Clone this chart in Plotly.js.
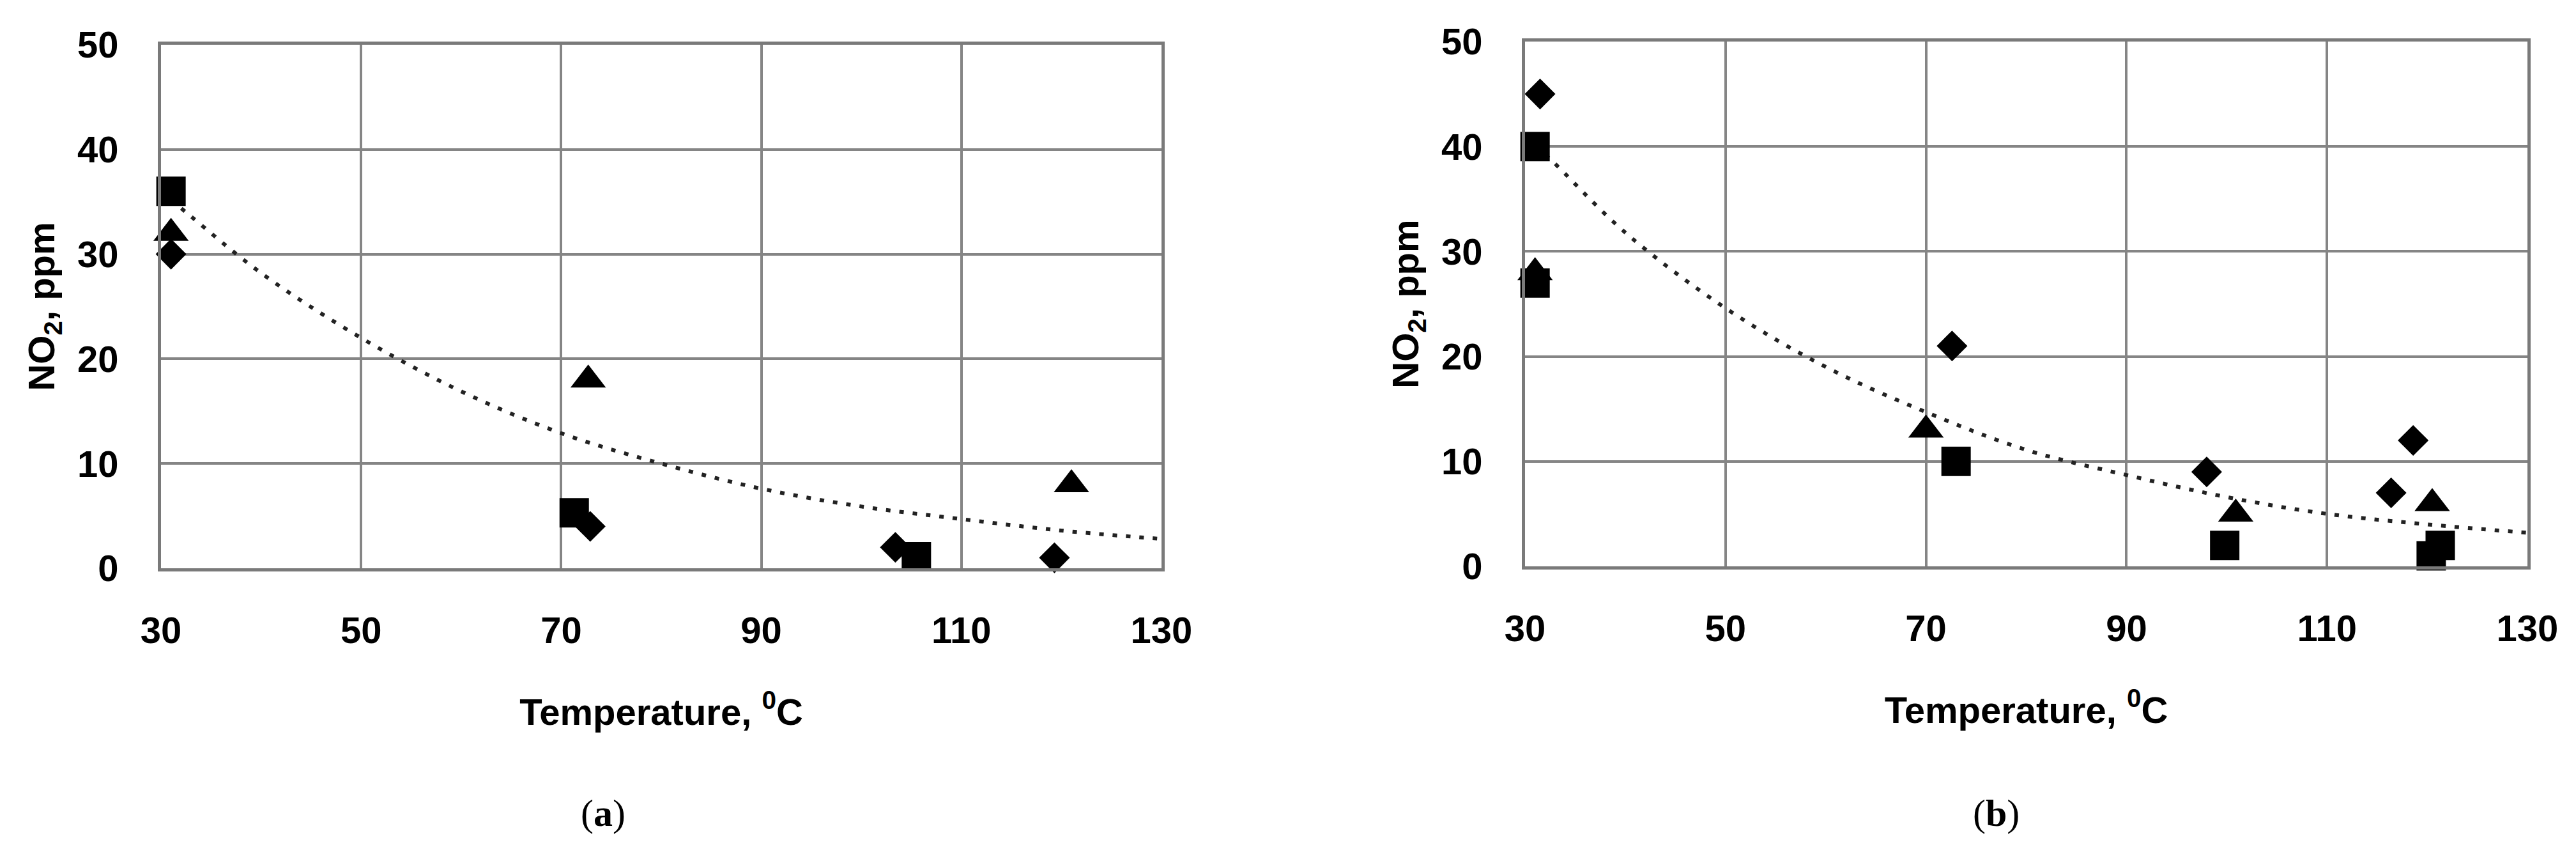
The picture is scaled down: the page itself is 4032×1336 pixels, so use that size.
<!DOCTYPE html>
<html>
<head>
<meta charset="utf-8">
<script src="https://cdn.plot.ly/plotly-3.0.1.min.js"></script>
<style>html,body{margin:0;padding:0;background:#fff;}#chart{width:4032px;height:1336px;}</style>
</head>
<body>
<div id="chart"></div>
<script>
// ---------- data ----------
const xTickVals = [30, 50, 70, 90, 110, 130];
const yTickVals = [0, 10, 20, 30, 40, 50];

// panel (a)
const aSquareT   = [31, 71.3, 105.5];
const aSquareNO2 = [36, 5.3, 1.1];
const aTriT      = [31, 72.7, 121];
const aTriNO2    = [32, 18, 8];
const aDiaT      = [31, 72.9, 103.4, 119.3];
const aDiaNO2    = [30, 4, 2, 1];
const aTrendT    = [31, 33, 40, 50, 60, 70, 80, 90, 100, 110, 120, 130];
const aTrendNO2  = [35.2, 33.6, 28.2, 22.0, 16.9, 12.9, 10.0, 7.6, 5.9, 4.7, 3.6, 2.8];

// panel (b)
const bSquareT   = [31, 31, 73, 99.8, 120.4, 121.3];
const bSquareNO2 = [40, 27, 10, 2, 1, 2];
const bTriT      = [31, 70, 100.9, 120.5];
const bTriNO2    = [28, 13, 5, 6];
const bDiaT      = [31.5, 72.6, 98, 116.4, 118.6];
const bDiaNO2    = [45, 21, 9, 7, 12];
const bTrendT    = [31, 32.5, 40, 50, 60, 70, 80, 90, 100, 110, 120, 130];
const bTrendNO2  = [40.0, 38.8, 31.8, 24.6, 19.0, 14.7, 11.1, 8.7, 6.6, 5.0, 4.0, 3.2];

const xTitle = 'Temperature, <sup>0</sup>C';
const yTitle = 'NO<sub>2</sub>, ppm';
const panelLabels = ['(<b>a</b>)', '(<b>b</b>)'];

// ---------- styling ----------
const FONT = 'Liberation Sans, Arial, sans-serif';
const markerSq  = {symbol: 'square', size: 46, color: '#000'};
const markerTri = {symbol: 'triangle-up', size: 48, color: '#000'};
const markerDia = {symbol: 'diamond', size: 37, color: '#000'};
const trendLine = {color: '#222222', width: 6, dash: '7px,14px', shape: 'spline'};

function pts(x, y, marker, xa, ya, name) {
  return {type: 'scatter', mode: 'markers', x: x, y: y, xaxis: xa, yaxis: ya,
          marker: marker, cliponaxis: false, showlegend: false, name: name, hoverinfo: 'x+y'};
}
function trend(x, y, xa, ya) {
  return {type: 'scatter', mode: 'lines', x: x, y: y, xaxis: xa, yaxis: ya,
          line: trendLine, cliponaxis: false, showlegend: false, name: 'trend', hoverinfo: 'skip'};
}

const data = [
  trend(aTrendT, aTrendNO2, 'x', 'y'),
  pts(aDiaT, aDiaNO2, markerDia, 'x', 'y', 'diamond'),
  pts(aTriT, aTriNO2, markerTri, 'x', 'y', 'triangle'),
  pts(aSquareT, aSquareNO2, markerSq, 'x', 'y', 'square'),
  trend(bTrendT, bTrendNO2, 'x2', 'y2'),
  pts(bDiaT, bDiaNO2, markerDia, 'x2', 'y2', 'diamond'),
  pts(bTriT, bTriNO2, markerTri, 'x2', 'y2', 'triangle'),
  pts(bSquareT, bSquareNO2, markerSq, 'x2', 'y2', 'square')
];

const W = 4032, H = 1336;
function xAxis(domain, anchor) {
  return {
    domain: domain, anchor: anchor, range: [30, 130], tickvals: xTickVals,
    showgrid: true, gridcolor: '#858585', gridwidth: 4,
    showline: true, linecolor: '#7a7a7a', linewidth: 5, mirror: true,
    zeroline: false, ticks: '', ticklabelstandoff: 42,
    tickfont: {family: FONT, size: 58, color: '#000', weight: 'bold'},
    title: {text: xTitle, standoff: 78, font: {family: FONT, size: 58, color: '#000', weight: 'bold'}},
    automargin: false, fixedrange: true
  };
}
function yAxis(domain, anchor) {
  return {
    domain: domain, anchor: anchor, range: [0, 50], tickvals: yTickVals,
    showgrid: true, gridcolor: '#858585', gridwidth: 4,
    showline: true, linecolor: '#7a7a7a', linewidth: 5, mirror: true,
    zeroline: false, ticks: '', ticklabelstandoff: 50,
    tickfont: {family: FONT, size: 58, color: '#000', weight: 'bold'},
    title: {text: yTitle, standoff: 18, font: {family: FONT, size: 58, color: '#000', weight: 'bold'}},
    automargin: false, fixedrange: true
  };
}

const layout = {
  width: W, height: H,
  margin: {l: 0, r: 0, t: 0, b: 0},
  paper_bgcolor: '#ffffff', plot_bgcolor: '#ffffff',
  font: {family: FONT, color: '#000'},
  showlegend: false,
  xaxis:  xAxis([252 / W, 1818 / W], 'y'),
  yaxis:  yAxis([1 - 889 / H, 1 - 70 / H], 'x'),
  xaxis2: xAxis([2387 / W, 3956 / W], 'y2'),
  yaxis2: yAxis([1 - 886 / H, 1 - 65 / H], 'x2'),
  annotations: [
    {text: panelLabels[0], xref: 'paper', yref: 'paper', x: 944 / W, y: 1 - 1272 / H,
     xanchor: 'center', yanchor: 'middle', showarrow: false,
     font: {family: 'Liberation Serif, Times New Roman, serif', size: 60, color: '#000'}},
    {text: panelLabels[1], xref: 'paper', yref: 'paper', x: 3124 / W, y: 1 - 1272 / H,
     xanchor: 'center', yanchor: 'middle', showarrow: false,
     font: {family: 'Liberation Serif, Times New Roman, serif', size: 60, color: '#000'}}
  ]
};

Plotly.newPlot('chart', data, layout, {staticPlot: true, displayModeBar: false});
</script>
</body>
</html>
